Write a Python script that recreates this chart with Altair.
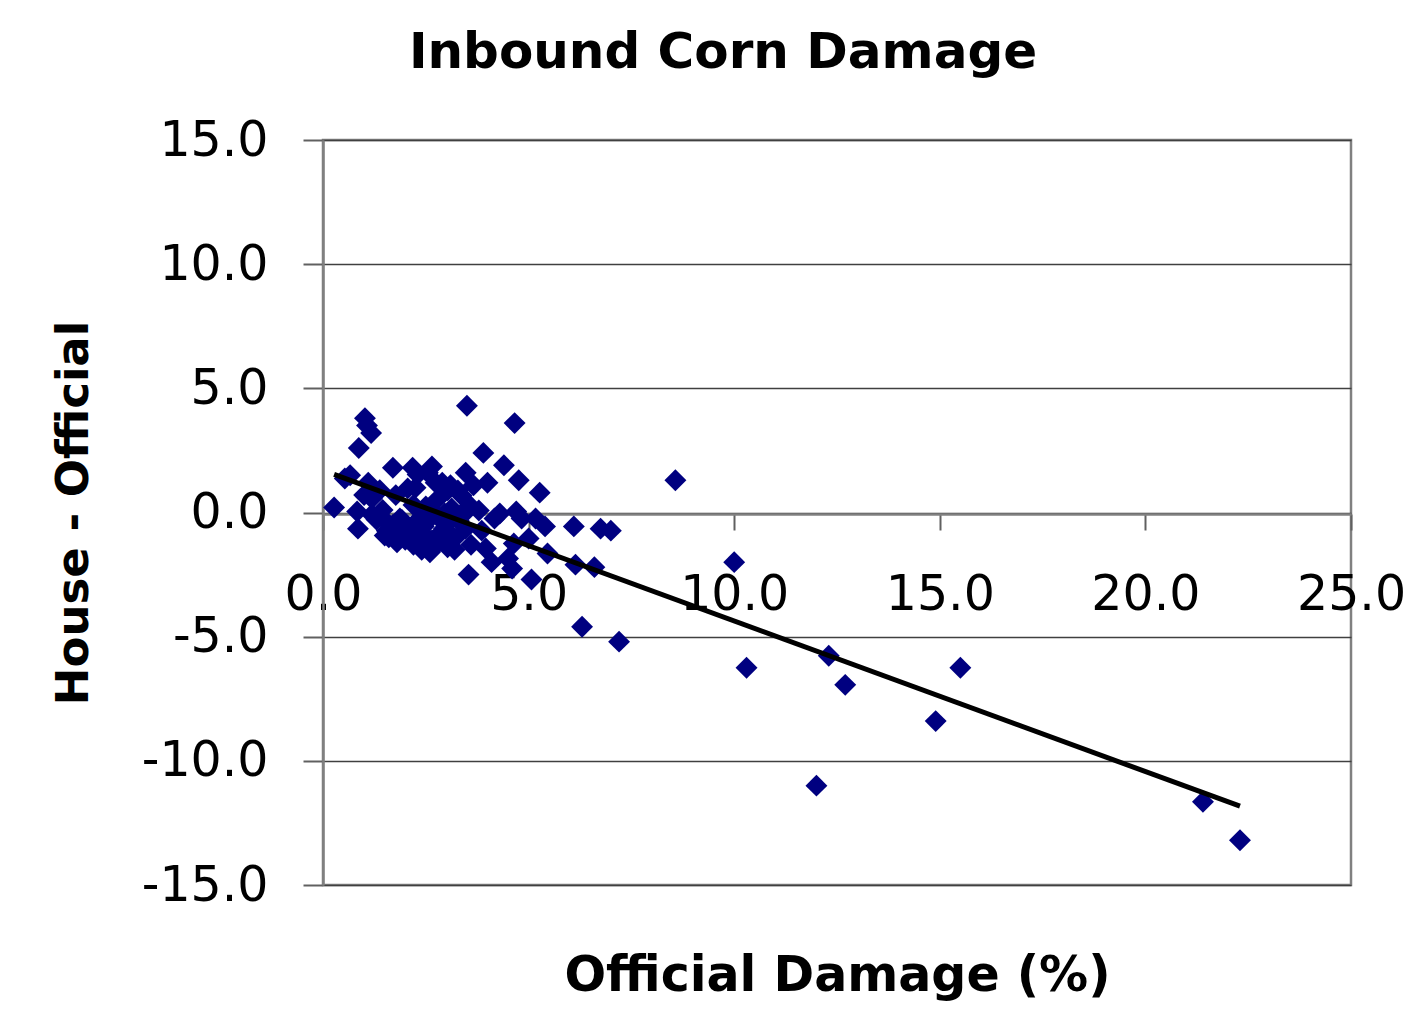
import altair as alt
import pandas as pd

official = [
    0.27, 0.66, 0.53, 1.02, 1.07, 1.17, 0.87, 3.5, 4.66, 3.9, 4.4, 4.76, 5.27, 8.57,
    6.1, 6.75, 7.0, 5.46, 6.14, 6.6, 5.07, 3.54, 6.3, 7.2, 10.0, 10.3, 12.3, 12.7,
    12.0, 14.9, 15.5, 21.4, 22.3,
    0.85, 0.83, 1.0, 1.1, 1.19, 1.19, 1.3, 1.5, 1.58, 1.7, 1.77, 1.82, 1.92, 2.06,
    2.1, 2.18, 2.3, 2.35, 2.45, 2.5, 2.55, 2.65, 2.65, 2.74, 2.8, 2.84, 2.9, 2.94,
    3.03, 3.03, 3.13, 3.2, 3.3, 3.37, 3.47, 3.47, 3.6, 3.57, 3.66, 3.79, 3.86, 3.96,
    4.0, 4.1, 4.17, 4.3, 4.5, 4.64, 4.7, 4.83, 5.0, 5.17, 5.4, 4.6, 2.5, 1.87, 1.55,
    1.38, 2.6, 2.35, 2.96, 3.28,
    2.2, 2.7, 3.0, 2.0, 3.4, 2.4, 1.45, 2.75, 3.1, 2.25,
    1.6, 1.8, 2.0, 2.2, 2.4, 2.6, 2.8, 3.0, 2.2, 1.9, 2.7, 3.2, 1.7, 2.9,
]
house_minus_official = [
    0.2, 1.5, 1.37, 3.8, 3.5, 3.2, 2.6, 4.3, 3.6, 2.4, 1.9, 1.3, 0.8, 1.3,
    -0.56, -0.65, -0.73, -1.65, -2.1, -2.2, -2.7, -2.5, -4.6, -5.2, -2.0, -6.25, -5.77, -6.94,
    -11.0, -8.4, -6.25, -11.65, -13.2,
    -0.65, 0.04, 0.7, 1.2, 0.56, -0.08, -0.28, -0.93, -0.44, 1.8, 0.7, -0.7, -0.3, 0.97,
    -0.85, 1.8, 1.53, -0.24, -0.56, 0.24, 1.6, 1.85, -1.13, 1.2, 0.56, -0.24, 1.2, -0.65,
    -1.4, 0.89, 0.16, -1.05, -0.32, 0.68, 1.6, -0.65, -1.3, 0.28, 1.1, 0.08, -0.73, -1.45,
    1.2, -2.0, -0.24, -0.04, -1.85, -1.25, 0.04, -0.24, -1.05, -0.24, -0.56, -2.26, -1.25, -0.24, -0.73,
    0.9, -0.24, -1.05, -0.04, 0.89,
    0.3, 0.0, -0.5, -0.5, -0.1, -0.8, 0.1, -1.0, 1.1, 1.0,
    -1.0, -1.2, -1.1, -1.3, -1.5, -1.6, -1.2, -1.0, -0.7, -0.9, -1.4, -1.5, -0.5, -0.8,
]

x_ticks = [0, 5, 10, 15, 20, 25]
y_ticks = [-15, -10, -5, 0, 5, 10, 15]

df = pd.DataFrame({"Official": official, "Diff": house_minus_official})

FONT = "DejaVu Sans"
label_expr = "(datum.value < 0 ? '-' : '') + format(abs(datum.value), '.1f')"

x_enc = alt.X(
    "Official:Q",
    scale=alt.Scale(domain=[0, 25], nice=False, zero=False),
    axis=alt.Axis(
        values=x_ticks, labelExpr=label_expr, title="Official Damage (%)", grid=False,
        offset=-371, tickSize=16, tickColor="#606060", tickWidth=2,
        domainColor="#808080", domainWidth=2.5,
        labelFont=FONT, labelFontSize=49, labelColor="black", labelPadding=40,
        labelFlush=False, labelOverlap=False, labelBound=False,
        titleFont=FONT, titleFontSize=49, titleFontWeight="bold", titleColor="black",
        titleY=476, titleBaseline="alphabetic",
    ),
)
y_enc = alt.Y(
    "Diff:Q",
    scale=alt.Scale(domain=[-15, 15], nice=False, zero=False),
    axis=alt.Axis(
        values=y_ticks, labelExpr=label_expr, title="House - Official", grid=True,
        gridColor="#404040", gridWidth=1.5, tickSize=20, tickColor="#606060", tickWidth=2,
        domainColor="#808080", domainWidth=2.5,
        labelFont=FONT, labelFontSize=49, labelColor="black", labelPadding=35,
        labelOverlap=False, labelBound=False,
        titleFont=FONT, titleFontSize=45, titleFontWeight="bold", titleColor="black",
        titlePadding=45,
    ),
)

points = alt.Chart(df).mark_point(
    shape="diamond", filled=True, size=480, color="#000080", opacity=1, strokeWidth=0
).encode(x=x_enc, y=y_enc)

trend = alt.Chart(df).transform_regression("Official", "Diff").mark_line(
    color="black", strokeWidth=5
).encode(x="Official:Q", y="Diff:Q")

chart = alt.layer(points, trend).properties(
    width=1028, height=745,
    title=alt.TitleParams(
        "Inbound Corn Damage", font=FONT, fontSize=50, fontWeight="bold",
        anchor="middle", dx=-114, offset=38, color="black",
    ),
    autosize=alt.AutoSizeParams(type="none"),
    padding={"left": 315, "top": 132, "right": 57, "bottom": 123},
    background="white",
).configure_view(stroke="#808080", strokeWidth=2.5)

chart.save("out.html", embed_options={"renderer": "svg", "actions": False})
